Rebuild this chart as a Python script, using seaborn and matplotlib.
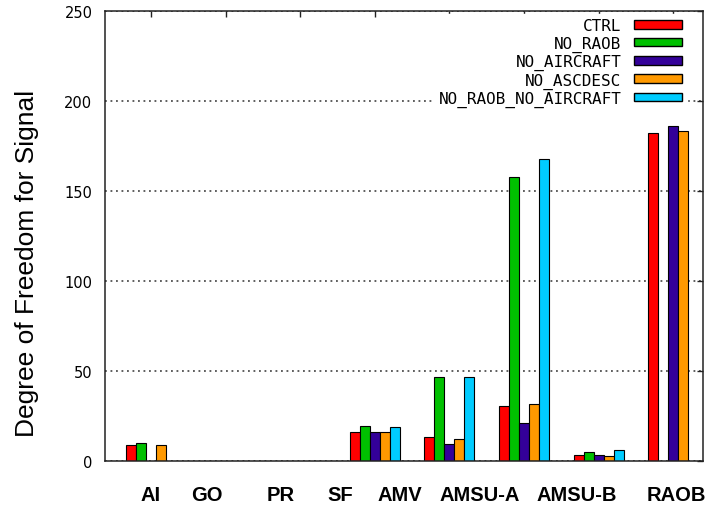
import numpy as np
import pandas as pd
import matplotlib
matplotlib.use("Agg")
import matplotlib.pyplot as plt
import seaborn as sns
from matplotlib.transforms import blended_transform_factory

# ---- data ----
categories = ["AI", "GO", "PR", "SF", "AMV", "AMSU-A", "AMSU-B", "RAOB"]
series = ["CTRL", "NO_RAOB", "NO_AIRCRAFT", "NO_ASCDESC", "NO_RAOB_NO_AIRCRAFT"]
nan = np.nan
ctrl = [8.9, nan, nan, 16.1, 13.3, 30.6, 3.2, 182.6]
no_raob = [10.0, nan, nan, 19.4, 46.7, 158.0, 5.0, nan]
no_aircraft = [nan, nan, nan, 16.1, 9.4, 21.1, 3.2, 186.3]
no_ascdesc = [8.9, nan, nan, 16.0, 12.0, 31.9, 2.8, 183.5]
no_raob_no_aircraft = [nan, nan, nan, 18.7, 46.7, 168.0, 5.9, nan]
yticks = [0, 50, 100, 150, 200, 250]
# label placement offsets (reference draws category labels shifted from groups)
label_pos = [-0.01, 0.75, 1.74, 2.53, 3.34, 4.41, 5.70, 7.04]

colors = ["#FF0000", "#00C000", "#330099", "#FF9900", "#00CCFF"]

values = [ctrl, no_raob, no_aircraft, no_ascdesc, no_raob_no_aircraft]
rows = []
for s, vals in zip(series, values):
    for c, v in zip(categories, vals):
        rows.append({"category": c, "run": s, "dofs": v})
df = pd.DataFrame(rows)

sns.set_style("white")
plt.rcParams["font.family"] = ["Liberation Sans", "DejaVu Sans"]
plt.rcParams["text.color"] = "black"
plt.rcParams["axes.labelcolor"] = "black"
plt.rcParams["xtick.color"] = "black"
plt.rcParams["ytick.color"] = "black"

fig = plt.figure(figsize=(7.06, 5.06), dpi=100)
ax = fig.add_axes([105 / 706, 1 - 462 / 506, 598.3 / 706, 449.7 / 506])

sns.barplot(data=df, x="category", y="dofs", hue="run", order=categories,
            hue_order=series, palette=colors, width=0.67, gap=0,
            errorbar=None, edgecolor="black", linewidth=0.8,
            saturation=1, ax=ax, legend=True)

ax.set_xlim(-0.617, 7.403)
ax.set_ylim(0, 250)
ax.set_yticks(yticks)
ax.set_yticklabels([str(t) for t in yticks], fontfamily="DejaVu Sans", fontsize=10.5,
                   color="black")
ax.set_xticks(range(len(categories)))
ax.set_xticklabels([])
ax.set_xlabel("")

ax.tick_params(axis="both", direction="in", length=4, width=1, color="#222222",
               top=True, right=True, pad=9)
ax.tick_params(axis="x", pad=2)

for sp in ax.spines.values():
    sp.set_visible(True)
    sp.set_color("#222222")
    sp.set_linewidth(1.1)

ax.set_axisbelow(True)
ax.yaxis.grid(True, linestyle=(0, (1.2, 2.4)), color="#333333", linewidth=1.1)
ax.xaxis.grid(False)

tr = blended_transform_factory(ax.transData, ax.transAxes)
for c, p in zip(categories, label_pos):
    ax.text(p, -0.0734, c, transform=tr, ha="center", va="center", color="black",
            fontsize=14.5, fontweight="bold", family="Liberation Sans")

ax.set_ylabel("Degree of Freedom for Signal", fontsize=19, family="Liberation Sans",
              color="black")
ax.yaxis.set_label_coords(-0.110, 0.4425)

handles, labels = ax.get_legend_handles_labels()
leg = ax.legend(handles, labels, loc="upper right", bbox_to_anchor=(0.9724, 0.995),
                borderaxespad=0, markerfirst=False, frameon=True, fancybox=False,
                framealpha=1, facecolor="white", edgecolor="white",
                prop={"family": "DejaVu Sans Mono", "size": 11.5},
                handlelength=3.0, handleheight=0.45, handletextpad=0.8,
                labelspacing=0.14, borderpad=0.3)
for t in leg.get_texts():
    t.set_color("black")
for h in leg.legend_handles:
    h.set_edgecolor("black")
    h.set_linewidth(1.0)

fig.savefig("out.png", dpi=100)
